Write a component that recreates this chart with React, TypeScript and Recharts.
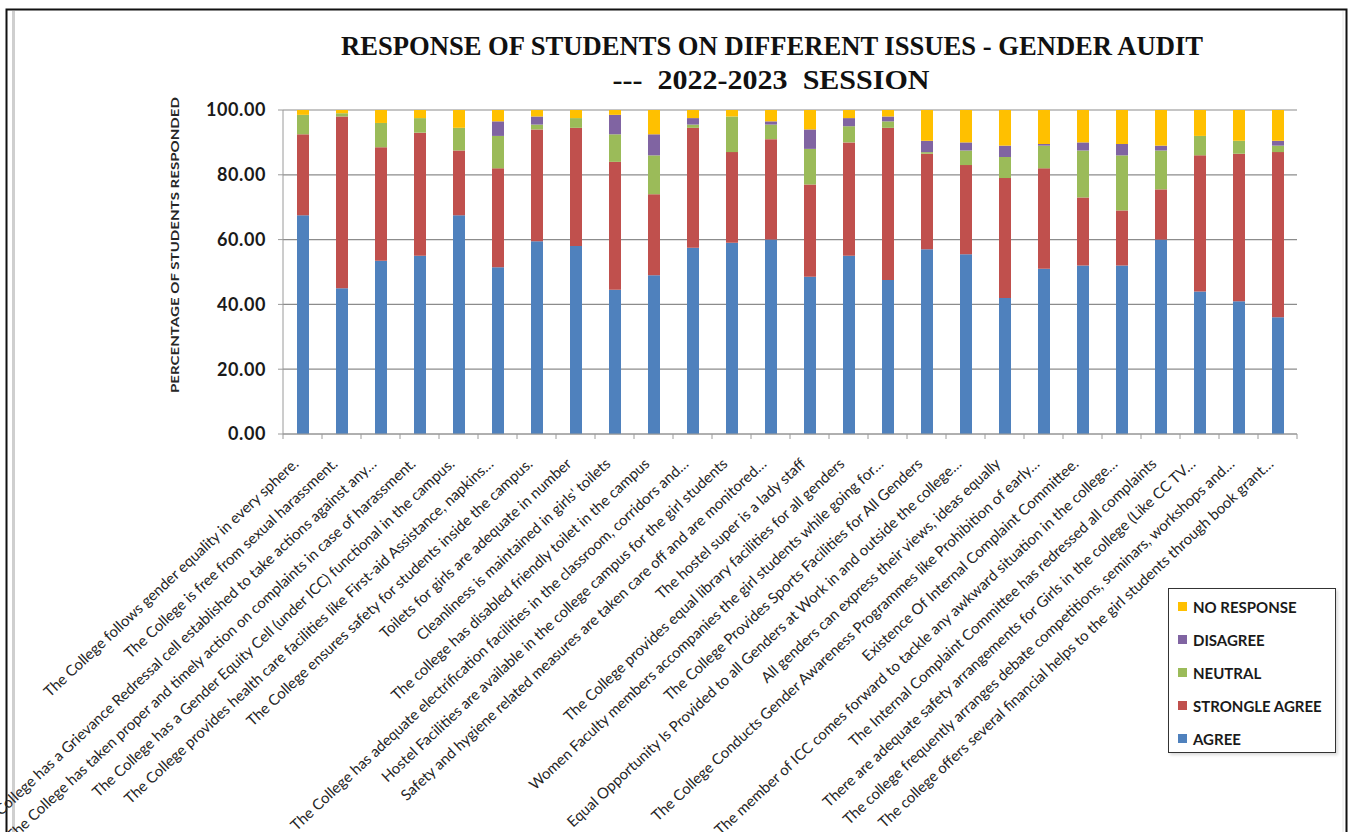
import React from "react";
import { BarChart, Bar, XAxis, YAxis, CartesianGrid, Legend } from "recharts";

const categories: string[] = [
  "The College follows gender equality in every sphere.",
  "The College is free from sexual harassment.",
  "The College has a Grievance Redressal cell established to take actions against any…",
  "The College has taken proper and timely action on complaints in case of harassment.",
  "The College has a Gender Equity Cell (under ICC) functional in the campus.",
  "The College provides health care facilities like First-aid Assistance, napkins…",
  "The College ensures safety for students inside the campus.",
  "Toilets for girls are adequate in number",
  "Cleanliness is maintained in girls' toilets",
  "The college has disabled friendly toilet in the campus",
  "The College has adequate electrification facilities in the classroom, corridors and…",
  "Hostel Facilities are available in the college campus for the girl students",
  "Safety and hygiene related measures are taken care off and are monitored…",
  "The hostel super is a lady staff",
  "The College provides equal library facilities for all genders",
  "Women Faculty members accompanies the girl students while going for…",
  "The College Provides Sports Facilities for All Genders",
  "Equal Opportunity Is Provided to all Genders at Work in and outside the college…",
  "All genders can express their views, ideas equally",
  "The College Conducts Gender Awareness Programmes like Prohibition of early…",
  "Existence Of Internal Complaint Committee.",
  "The member of ICC comes forward to tackle any awkward situation in the college…",
  "The Internal Complaint Committee has redressed all complaints",
  "There are adequate safety arrangements for Girls in the college (Like CC TV…",
  "The college frequently arranges debate competitions, seminars, workshops and…",
  "The college offers several financial helps to the girl students through book grant…",
];

const agree: number[] = [67.5, 45, 53.5, 55, 67.5, 51.5, 59.5, 58, 44.5, 49, 57.5, 59, 60, 48.5, 55, 47.5, 57, 55.5, 42, 51, 52, 52, 60, 44, 41, 36];
const stronglyAgree: number[] = [25, 53, 35, 38, 20, 30.5, 34.5, 36.5, 39.5, 25, 37, 28, 31, 28.5, 35, 47, 29.5, 27.5, 37, 31, 21, 17, 15.5, 42, 45.5, 51];
const neutral: number[] = [6, 1, 7.5, 4.5, 7, 10, 1.5, 3, 8.5, 12, 1, 11, 4.5, 11, 5, 2, 0.5, 4.5, 6.5, 7, 14.5, 17, 12, 6, 4, 2];
const disagree: number[] = [0, 0, 0, 0, 0, 4.5, 2.5, 0, 6, 6.5, 2, 0, 1, 6, 2.5, 1.5, 3.5, 2.5, 3.5, 0.5, 2.5, 3.5, 1.5, 0, 0, 1.5];
const noResponse: number[] = [1.5, 1, 4, 2.5, 5.5, 3.5, 2, 2.5, 1.5, 7.5, 2.5, 2, 3.5, 6, 2.5, 2, 9.5, 10, 11, 10.5, 10, 10.5, 11, 8, 9.5, 9.5];

const yTicks: number[] = [0, 20, 40, 60, 80, 100];

const seriesKeys = ["agree", "stronglyAgree", "neutral", "disagree", "noResponse"] as const;

const seriesNames: Record<string, string> = {
  agree: "AGREE",
  stronglyAgree: "STRONGLE AGREE",
  neutral: "NEUTRAL",
  disagree: "DISAGREE",
  noResponse: "NO RESPONSE",
};

const colors: Record<string, string> = {
  agree: "#4F81BD",
  stronglyAgree: "#C0504D",
  neutral: "#9BBB59",
  disagree: "#8064A2",
  noResponse: "#FFC000",
};

const data = categories.map((name, i) => ({
  name,
  agree: agree[i],
  stronglyAgree: stronglyAgree[i],
  neutral: neutral[i],
  disagree: disagree[i],
  noResponse: noResponse[i],
}));

const W = 1355;
const H = 832;
const BAND_HALF = 19.5;

const XTick = (props: any) => {
  const { x, y, payload, index } = props;
  const tx = x - 3;
  const ty = y + 31;
  return (
    <g>
      <line x1={x - BAND_HALF} x2={x - BAND_HALF} y1={y} y2={y + 5} stroke="#9a9a9a" />
      {index === categories.length - 1 && (
        <line x1={x + BAND_HALF} x2={x + BAND_HALF} y1={y} y2={y + 5} stroke="#9a9a9a" />
      )}
      <text
        x={tx}
        y={ty}
        textAnchor="end"
        transform={`rotate(-43, ${tx}, ${ty})`}
        fontFamily="Lato, 'Open Sans', sans-serif"
        fontSize={15}
        fill="#262626"
      >
        {payload.value}
      </text>
    </g>
  );
};

const YTick = (props: any) => {
  const { x, y, payload } = props;
  return (
    <text
      x={x}
      y={y}
      dy="0.35em"
      textAnchor="end"
      fontFamily="Lato, 'Open Sans', sans-serif"
      fontWeight="bold"
      fontSize={18}
      letterSpacing={0.6}
      fill="#1a1a1a"
    >
      {Number(payload.value).toFixed(2)}
    </text>
  );
};

const legendOrder = [...seriesKeys].reverse();

const LegendContent = () => {
  return (
    <div
      style={{
        width: 168,
        height: 165,
        boxSizing: "border-box",
        border: "1px solid #333",
        background: "#fff",
        paddingTop: 1,
        boxShadow: "2px 2px 3px rgba(0,0,0,0.15)",
      }}
    >
      {legendOrder.map((k) => (
        <div
          key={k}
          style={{
            height: 33,
            display: "flex",
            alignItems: "center",
            paddingLeft: 9,
            fontFamily: "Lato, 'Open Sans', sans-serif",
            fontWeight: "bold",
            fontSize: 15,
            color: "#1a1a1a",
          }}
        >
          <span style={{ display: "inline-block", width: 9, height: 9, background: colors[k], marginRight: 6 }} />
          {seriesNames[k]}
        </div>
      ))}
    </div>
  );
};

export default function App() {
  return (
    <div style={{ position: "absolute", left: 0, top: 0, width: W, height: H, background: "#fff", overflow: "hidden" }}>
      <svg width={W} height={H} style={{ position: "absolute", left: 0, top: 0 }}>
        <rect x={6.5} y={9.5} width={1340} height={900} fill="none" stroke="#111" strokeWidth={2} />
        <line x1={13.5} x2={13.5} y1={11} y2={H} stroke="#cfcfcf" strokeWidth={3} />
        <line x1={1343} x2={1343} y1={11} y2={H} stroke="#e6e6e6" strokeWidth={1} />
        <text
          x={772}
          y={55}
          textAnchor="middle"
          fontFamily="'Liberation Serif', serif"
          fontWeight="bold"
          fontSize={27}
          textLength={862}
          lengthAdjust="spacingAndGlyphs"
          fill="#111"
        >
          RESPONSE OF STUDENTS ON DIFFERENT ISSUES - GENDER AUDIT
        </text>
        <text
          x={771}
          y={89}
          textAnchor="middle"
          fontFamily="'Liberation Serif', serif"
          fontWeight="bold"
          fontSize={27}
          textLength={317}
          lengthAdjust="spacingAndGlyphs"
          fill="#111"
          style={{ whiteSpace: "pre" }}
        >
          {"---  2022-2023  SESSION"}
        </text>
        <text
          x={0}
          y={0}
          transform="translate(179, 245) rotate(-90)"
          textAnchor="middle"
          fontFamily="Lato, 'Open Sans', sans-serif"
          fontWeight="bold"
          fontSize={12}
          textLength={296}
          lengthAdjust="spacingAndGlyphs"
          fill="#262626"
        >
          PERCENTAGE OF STUDENTS RESPONDED
        </text>
      </svg>
      <div style={{ position: "absolute", left: 0, top: 0 }}>
        <BarChart
          width={W}
          height={H}
          data={data}
          margin={{ top: 110, right: W - 1297, left: 283 - 80, bottom: 0 }}
          barSize={12}
        >
          <CartesianGrid vertical={false} stroke="#8c8c8c" strokeWidth={1.2} />
          <XAxis
            dataKey="name"
            interval={0}
            height={398}
            tickSize={0}
            tickMargin={0}
            tickLine={false}
            axisLine={{ stroke: "#9a9a9a" }}
            tick={<XTick />}
          />
          <YAxis
            width={80}
            domain={[0, 100]}
            ticks={yTicks}
            allowDataOverflow
            tickSize={5}
            tickMargin={12}
            axisLine={{ stroke: "#9a9a9a" }}
            tickLine={{ stroke: "#9a9a9a" }}
            tick={<YTick />}
          />
          <Legend
            layout="horizontal"
            verticalAlign="middle"
            align="center"
            content={<LegendContent />}
            wrapperStyle={{ position: "absolute", left: 1168, top: 588, width: 168, height: 165 }}
          />
          {seriesKeys.map((k) => (
            <Bar key={k} dataKey={k} name={seriesNames[k]} stackId="a" fill={colors[k]} isAnimationActive={false} />
          ))}
        </BarChart>
      </div>
    </div>
  );
}
